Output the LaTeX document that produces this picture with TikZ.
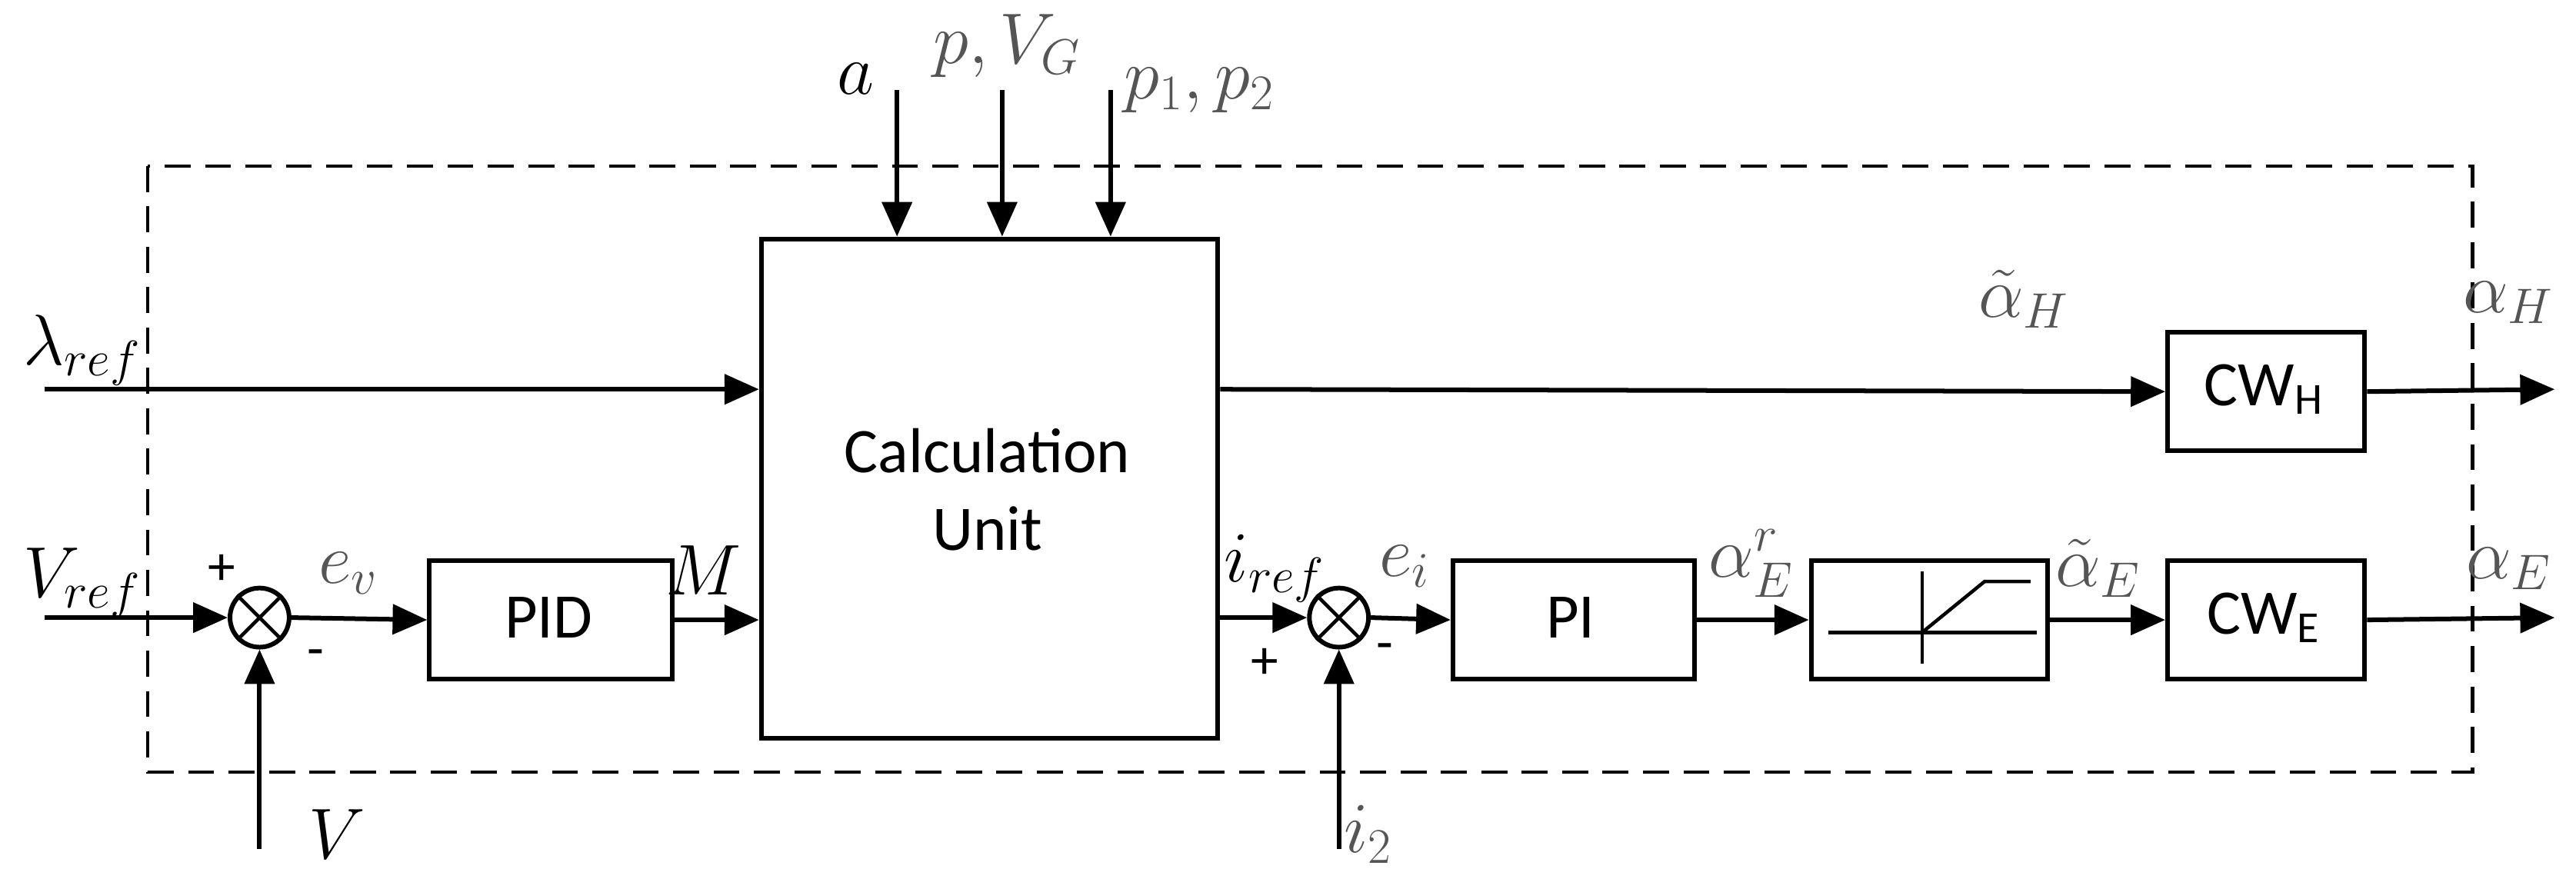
\documentclass[tikz,border=0pt]{standalone}
\usepackage{fontspec}
\setmainfont{Carlito}
\usepackage{amsmath}
\usetikzlibrary{arrows.meta}
\definecolor{lg}{HTML}{555555}
\begin{document}
\begin{tikzpicture}[x=0.02cm,y=-0.02cm,
  ln/.style={line width=1.6pt},
  ar/.style={ln,-{Triangle[length=0.42cm,width=0.36cm]}},
  blk/.style={draw,line width=1.6pt,anchor=north west,inner sep=0pt},
  bt/.style={font=\fontsize{22}{27}\selectfont},
  sum/.style={draw,line width=1.6pt,circle,minimum size=0.72cm,inner sep=0pt},
  lb/.style={font=\fontsize{23}{25}\selectfont,inner sep=1pt},
  gl/.style={lb,text=lg}]
\useasboundingbox (0,0) rectangle (1568,535);
\draw[line width=1.1pt,dash pattern=on 9pt off 5pt] (90,101) rectangle (1505,470);
% blocks
\node[blk,minimum width=5.56cm,minimum height=6.08cm] (calc) at (462,144) {};
\node[bt,align=center] (calct) at (601,298) {Calculation\\Unit};
\node[blk,minimum width=2.96cm,minimum height=1.44cm] (pid) at (260,340) {};
\node[bt] (pidt) at (334,376) {PID};
\node[blk,minimum width=2.94cm,minimum height=1.44cm] (pi) at (883,340) {};
\node[bt] (pit) at (956,376) {PI};
\node[blk,minimum width=2.88cm,minimum height=1.44cm] (sat) at (1101,340) {};
\node[blk,minimum width=2.4cm,minimum height=1.44cm] (cwh) at (1318,201) {};
\node[bt] (cwht) at (1378,237) {CW\textsubscript{H}};
\node[blk,minimum width=2.4cm,minimum height=1.44cm] (cwe) at (1318,340) {};
\node[bt] (cwet) at (1378,376) {CW\textsubscript{E}};
\node[sum] (s1) at (158,376) {};
\node[sum] (s2) at (815,376) {};
\draw[line width=1.2pt] (s1.north west) -- (s1.south east) (s1.north east) -- (s1.south west);
\draw[line width=1.2pt] (s2.north west) -- (s2.south east) (s2.north east) -- (s2.south west);
% saturation glyph
\draw[line width=1.2pt] (1113,385) coordinate (h1) -- (1240,385) coordinate (h2);
\draw[line width=1.2pt] (1170,348) coordinate (v1) -- (1170,404) coordinate (v2);
\draw[line width=1.2pt] (1170,385) coordinate (r0) -- (1208,354) coordinate (r1) -- (1236,354) coordinate (r2);
% coordinates
\coordinate (lin) at (27,237);
\coordinate (vin) at (27,376);
\coordinate (vb) at (158,517);
\coordinate (ib) at (815,517);
\coordinate (ta) at (546,55);
\coordinate (tp) at (610,55);
\coordinate (tq) at (676,55);
\coordinate (oh) at (1555,237);
\coordinate (oe) at (1555,376);
% connectors
\draw[ar] (lin) -- (lin -| calc.west);
\draw[ar] (vin) -- (s1.west);
\draw[ar] (vb) -- (s1.south);
\draw[ar] (s1.east) -- (pid.west);
\draw[ar] (pid.east) -- (pid.east -| calc.west);
\draw[ar] (ta) -- (ta |- calc.north);
\draw[ar] (tp) -- (tp |- calc.north);
\draw[ar] (tq) -- (tq |- calc.north);
\draw[ar] (calc.east |- lin) -- (cwh.west);
\draw[ar] (cwh.east) -- (oh);
\draw[ar] (calc.east |- s2) -- (s2.west);
\draw[ar] (ib) -- (s2.south);
\draw[ar] (s2.east) -- (pi.west);
\draw[ar] (pi.east) -- (sat.west);
\draw[ar] (sat.east) -- (cwe.west);
\draw[ar] (cwe.east) -- (oe);
% labels
\node[lb] (la) at (521,48) {$a$};
\node[gl] (lp) at (613,28) {$p,V_G$};
\node[gl] (lq) at (730,55) {$p_1,p_2$};
\node[lb] (ll) at (50,213) {$\lambda_{ref}$};
\node[lb] (lv) at (50,355) {$V_{ref}$};
\node[font=\fontsize{19}{20}\selectfont] (pl1) at (135,347) {+};
\node[font=\fontsize{19}{20}\selectfont] (mi1) at (192,401) {-};
\node[lb] (lV) at (205,508) {$V$};
\node[gl] (lev) at (212,349) {$e_v$};
\node[lb] (lM) at (428,347) {$M$};
\node[lb] (lir) at (776,346) {$i_{ref}$};
\node[font=\fontsize{19}{20}\selectfont] (pl2) at (770,404) {+};
\node[font=\fontsize{19}{20}\selectfont] (mi2) at (843,397) {-};
\node[gl] (lei) at (855,345) {$e_i$};
\node[gl] (li2) at (833,508) {$i_2$};
\node[gl] (lar) at (1066,343) {$\alpha_E^r$};
\node[gl] (late) at (1277,346) {$\tilde\alpha_E$};
\node[gl] (lah) at (1232,182) {$\tilde\alpha_H$};
\node[gl] (loh) at (1527,184) {$\alpha_H$};
\node[gl] (loe) at (1527,346) {$\alpha_E$};
\end{tikzpicture}
\end{document}
